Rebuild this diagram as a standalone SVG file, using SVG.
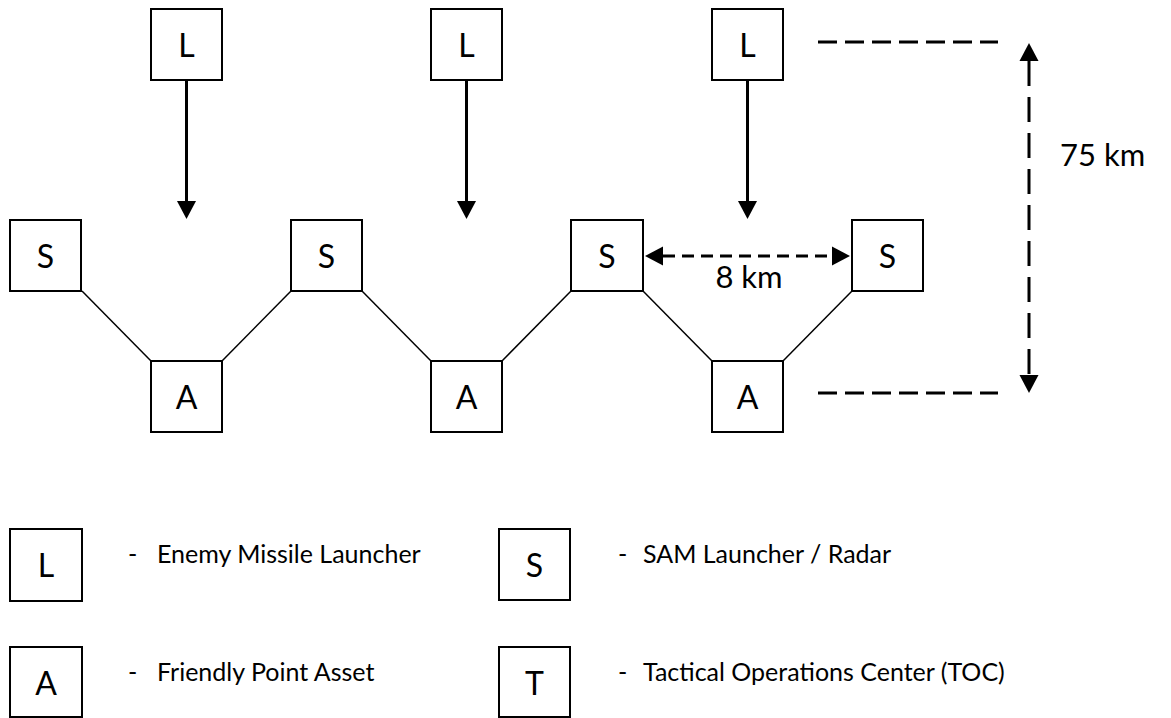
<svg xmlns="http://www.w3.org/2000/svg" width="1171" height="718" viewBox="0 0 1171 718">
<style>
.box{fill:#fff;stroke:#000;stroke-width:2}
.lt{font-family:Lato,"Liberation Sans",sans-serif;font-size:32px;fill:#000;text-anchor:middle}
.dim{font-family:Lato,"Liberation Sans",sans-serif;font-size:31px;fill:#000}
.tx{font-family:Lato,"Liberation Sans",sans-serif;font-size:25px;fill:#000}
.thin{stroke:#000;stroke-width:1.5;fill:none}
.arr{stroke:#000;stroke-width:3;fill:none}
.dash{stroke:#000;stroke-width:3;fill:none;stroke-dasharray:19 8}
</style>
<defs>
<marker id="ah" markerUnits="userSpaceOnUse" markerWidth="18" markerHeight="19" refX="0" refY="9.5" orient="auto-start-reverse" overflow="visible">
<path d="M0,0 L18,9.5 L0,19 z" fill="#000"/>
</marker>
</defs>
<g id="connectors">
<line class="arr" x1="186.5" y1="80" x2="186.5" y2="201" marker-end="url(#ah)"/>
<line class="arr" x1="466.5" y1="80" x2="466.5" y2="201" marker-end="url(#ah)"/>
<line class="arr" x1="747.5" y1="80" x2="747.5" y2="201" marker-end="url(#ah)"/>
<line class="thin" x1="82" y1="291" x2="151" y2="361"/>
<line class="thin" x1="222" y1="361" x2="291" y2="291"/>
<line class="thin" x1="362" y1="291" x2="431" y2="361"/>
<line class="thin" x1="502" y1="361" x2="571" y2="291"/>
<line class="thin" x1="643" y1="291" x2="712" y2="361"/>
<line class="thin" x1="783" y1="361" x2="852" y2="291"/>
<line class="arr" x1="663" y1="256" x2="832" y2="256" stroke-dasharray="12 7" marker-start="url(#ah)" marker-end="url(#ah)"/>
<line class="dash" x1="818" y1="42" x2="998" y2="42"/>
<line class="dash" x1="818" y1="393" x2="998" y2="393"/>
<line class="arr" x1="1029" y1="61" x2="1029" y2="375" stroke-dasharray="25 11" marker-start="url(#ah)" marker-end="url(#ah)"/>
</g>
<g id="L1"><rect class="box" x="151" y="9" width="71" height="71"/><text class="lt" x="186.5" y="57">L</text></g>
<g id="L2"><rect class="box" x="431" y="9" width="71" height="71"/><text class="lt" x="466.5" y="57">L</text></g>
<g id="L3"><rect class="box" x="712" y="9" width="71" height="71"/><text class="lt" x="747.5" y="57">L</text></g>
<g id="S1"><rect class="box" x="10" y="220" width="71" height="71"/><text class="lt" x="45.5" y="268">S</text></g>
<g id="S2"><rect class="box" x="291" y="220" width="71" height="71"/><text class="lt" x="326.5" y="268">S</text></g>
<g id="S3"><rect class="box" x="571" y="220" width="72" height="71"/><text class="lt" x="607" y="268">S</text></g>
<g id="S4"><rect class="box" x="852" y="220" width="71" height="71"/><text class="lt" x="887.5" y="268">S</text></g>
<g id="A1"><rect class="box" x="151" y="361" width="71" height="71"/><text class="lt" x="186.5" y="409">A</text></g>
<g id="A2"><rect class="box" x="431" y="361" width="71" height="71"/><text class="lt" x="466.5" y="409">A</text></g>
<g id="A3"><rect class="box" x="712" y="361" width="71" height="71"/><text class="lt" x="747.5" y="409">A</text></g>
<g id="dim-labels">
<text class="dim" x="749" y="288" text-anchor="middle">8 km</text>
<text class="dim" x="1060" y="166">75 km</text>
</g>
<g id="legend-L"><rect class="box" x="10" y="529" width="72" height="72"/><text class="lt" x="46" y="577">L</text><text class="tx" x="128" y="563">-</text><text class="tx" x="157" y="563">Enemy Missile Launcher</text></g>
<g id="legend-S"><rect class="box" x="499" y="529" width="71" height="71"/><text class="lt" x="534.5" y="577">S</text><text class="tx" x="618" y="563">-</text><text class="tx" x="643" y="563">SAM Launcher / Radar</text></g>
<g id="legend-A"><rect class="box" x="10" y="647" width="72" height="70"/><text class="lt" x="46" y="695">A</text><text class="tx" x="128" y="681">-</text><text class="tx" x="157" y="681">Friendly Point Asset</text></g>
<g id="legend-T"><rect class="box" x="499" y="647" width="71" height="70"/><text class="lt" x="534.5" y="695">T</text><text class="tx" x="618" y="681">-</text><text class="tx" x="643" y="681">Tactical Operations Center (TOC)</text></g>
</svg>
